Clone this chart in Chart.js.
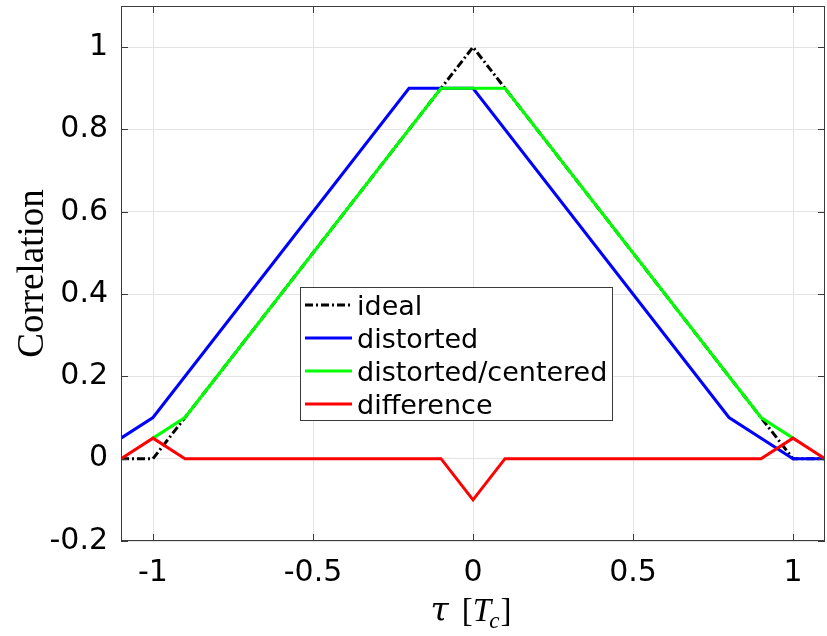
<!DOCTYPE html>
<html>
<head>
<meta charset="utf-8">
<script src="https://cdn.jsdelivr.net/npm/chart.js@4.4.1/dist/chart.umd.min.js"></script>
<style>
html, body { margin: 0; padding: 0; background: #fff; }
</style>
</head>
<body>
<canvas id="corrChart" width="827" height="636"></canvas>
<script>
// valores
var idealX = [-1.1, -1, 0, 1, 1.1];
var idealY = [0, 0, 1, 0, 0];
var distortedX = [-1.1, -1, -0.2, 0, 0.8, 1, 1.1];
var distortedY = [0.05, 0.1, 0.9, 0.9, 0.1, 0, 0];
var centeredX = [-1, -0.9, -0.1, 0.1, 0.9, 1];
var centeredY = [0.05, 0.1, 0.9, 0.9, 0.1, 0.05];
var differenceX = [-1.1, -1, -0.9, -0.1, 0, 0.1, 0.9, 1, 1.1];
var differenceY = [0, 0.05, 0, 0, -0.1, 0, 0, 0.05, 0];
var xTicks = [-1, -0.5, 0, 0.5, 1];
var yTicks = [-0.2, 0, 0.2, 0.4, 0.6, 0.8, 1];

function toPoints(xs, ys) {
    return xs.map(function (x, i) { return { x: x, y: ys[i] }; });
}

var axisColor = '#3a3a3a';

// caixa, marcas e títulos no estilo MATLAB
var axesDecor = {
    id: 'axesDecor',
    afterDraw: function (chart) {
        var ctx = chart.ctx;
        var a = chart.chartArea;
        var sx = chart.scales.x, sy = chart.scales.y;
        ctx.save();
        ctx.strokeStyle = axisColor;
        ctx.lineWidth = 1;
        ctx.setLineDash([]);
        ctx.beginPath();
        xTicks.forEach(function (v) {
            var px = Math.round(sx.getPixelForValue(v)) + 0.5;
            ctx.moveTo(px, a.bottom); ctx.lineTo(px, a.bottom - 7);
            ctx.moveTo(px, a.top); ctx.lineTo(px, a.top + 7);
        });
        yTicks.forEach(function (v) {
            var py = Math.round(sy.getPixelForValue(v)) + 0.5;
            ctx.moveTo(a.left, py); ctx.lineTo(a.left + 7, py);
            ctx.moveTo(a.right, py); ctx.lineTo(a.right - 7, py);
        });
        ctx.stroke();
        ctx.strokeRect(Math.round(a.left) + 0.5, Math.round(a.top) + 0.5,
            Math.round(a.right - a.left) - 1, Math.round(a.bottom - a.top) - 1);

        // título do eixo y
        ctx.fillStyle = '#000';
        ctx.font = '37px "Liberation Serif", serif';
        ctx.textAlign = 'center';
        ctx.textBaseline = 'alphabetic';
        ctx.save();
        ctx.translate(43, (a.top + a.bottom) / 2);
        ctx.rotate(-Math.PI / 2);
        ctx.fillText('Correlation', 0, 0);
        ctx.restore();

        // título do eixo x: tau [T_c]
        var parts = [
            { t: '\u03c4', f: 'italic 33px "DejaVu Serif", serif', dy: 0, gap: 13 },
            { t: '[', f: '33px "Liberation Serif", serif', dy: 0, gap: 0 },
            { t: 'T', f: 'italic 33px "Liberation Serif", serif', dy: 0, gap: -2 },
            { t: 'c', f: 'italic 23px "Liberation Serif", serif', dy: 7, gap: 1 },
            { t: ']', f: '33px "Liberation Serif", serif', dy: 0, gap: 0 }
        ];
        var total = 0;
        parts.forEach(function (p) {
            ctx.font = p.f;
            p.w = ctx.measureText(p.t).width;
            total += p.w + p.gap;
        });
        var cx = (a.left + a.right) / 2 - 2 - total / 2;
        ctx.textAlign = 'left';
        parts.forEach(function (p) {
            ctx.font = p.f;
            ctx.fillText(p.t, cx, 621 + p.dy);
            cx += p.w + p.gap;
        });
        ctx.restore();
    }
};

// legenda dentro da área do gráfico
var legendBox = {
    id: 'legendBox',
    afterDraw: function (chart) {
        var ctx = chart.ctx;
        var x0 = 300, y0 = 287, w = 312, h = 133;
        ctx.save();
        ctx.fillStyle = '#fff';
        ctx.fillRect(x0, y0, w, h);
        ctx.strokeStyle = axisColor;
        ctx.lineWidth = 1;
        ctx.strokeRect(x0 + 0.5, y0 + 0.5, w, h);
        ctx.font = '27px "DejaVu Sans", sans-serif';
        ctx.textAlign = 'left';
        ctx.textBaseline = 'alphabetic';
        chart.data.datasets.forEach(function (ds, i) {
            var base = 315 + i * 33;
            ctx.strokeStyle = ds.borderColor;
            ctx.lineWidth = ds.borderWidth;
            ctx.setLineDash(ds.borderDash || []);
            ctx.beginPath();
            ctx.moveTo(305, base - 10);
            ctx.lineTo(352, base - 10);
            ctx.stroke();
            ctx.fillStyle = '#000';
            ctx.fillText(ds.label, 357, base);
        });
        ctx.restore();
    }
};

var ctx = document.getElementById('corrChart').getContext('2d');
var corrChart = new Chart(ctx, {
    type: 'line',
    data: {
        datasets: [{
            label: 'ideal',
            data: toPoints(idealX, idealY),
            borderColor: '#000000',
            borderWidth: 3,
            borderDash: [8, 3, 2, 3],
            order: 4
        }, {
            label: 'distorted',
            data: toPoints(distortedX, distortedY),
            borderColor: '#0000ff',
            borderWidth: 3,
            order: 3
        }, {
            label: 'distorted/centered',
            data: toPoints(centeredX, centeredY),
            borderColor: '#00ff00',
            borderWidth: 3,
            order: 2
        }, {
            label: 'difference',
            data: toPoints(differenceX, differenceY),
            borderColor: '#ff0000',
            borderWidth: 3,
            order: 1
        }]
    },
    options: {
        responsive: false,
        animation: false,
        devicePixelRatio: 1,
        layout: { padding: { top: 6, right: 2, left: 0, bottom: 0 } },
        elements: {
            point: { radius: 0 },
            line: { tension: 0, fill: false }
        },
        plugins: {
            legend: { display: false },
            tooltip: { enabled: false }
        },
        scales: {
            x: {
                type: 'linear',
                min: -1.1,
                max: 1.1,
                afterBuildTicks: function (scale) {
                    scale.ticks = xTicks.map(function (v) { return { value: v }; });
                },
                afterFit: function (scale) {
                    scale.height = 95;
                    scale.paddingLeft = 0;
                    scale.paddingRight = 0;
                },
                grid: { color: '#e3e3e3', drawTicks: false },
                border: { display: false },
                ticks: {
                    padding: 14,
                    color: '#000',
                    maxRotation: 0,
                    font: { family: 'DejaVu Sans', size: 30 },
                    callback: function (v) { return String(v); }
                }
            },
            y: {
                type: 'linear',
                min: -0.2,
                max: 1.1,
                afterBuildTicks: function (scale) {
                    scale.ticks = yTicks.map(function (v) { return { value: v }; });
                },
                afterFit: function (scale) {
                    scale.width = 121;
                    scale.paddingTop = 0;
                    scale.paddingBottom = 0;
                },
                grid: { color: '#e3e3e3', drawTicks: false },
                border: { display: false },
                ticks: {
                    padding: 13,
                    color: '#000',
                    font: { family: 'DejaVu Sans', size: 30 },
                    callback: function (v) { return String(v); }
                }
            }
        }
    },
    plugins: [axesDecor, legendBox]
});
</script>
</body>
</html>
